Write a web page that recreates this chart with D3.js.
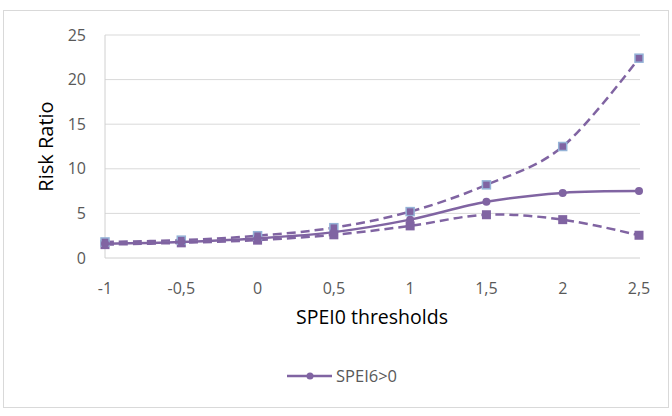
<!DOCTYPE html>
<html>
<head>
<meta charset="utf-8">
<script src="https://cdn.jsdelivr.net/npm/d3@7"></script>
<style>
  body { margin: 0; background: #fff; }
  svg text { font-family: "Open Sans", "Noto Sans", sans-serif; }
</style>
</head>
<body>
<div id="chart"></div>
<script>
// data
const thresholds = ["-1", "-0,5", "0", "0,5", "1", "1,5", "2", "2,5"];
const rrMain = [1.6, 1.8, 2.2, 2.9, 4.3, 6.3, 7.3, 7.5];
const rrUpper = [1.8, 2.0, 2.5, 3.4, 5.2, 8.2, 12.5, 22.4];
const rrLower = [1.5, 1.7, 2.0, 2.6, 3.6, 4.85, 4.3, 2.55];
const yTicks = [0, 5, 10, 15, 20, 25];
const legendLabel = "SPEI6>0";

const W = 672, H = 416;
const purple = "#8064a2";
const svg = d3.select("#chart").append("svg")
    .attr("width", W).attr("height", H);

// chart border
svg.append("rect")
    .attr("x", 3.5).attr("y", 10.5)
    .attr("width", 665).attr("height", 397)
    .attr("fill", "#fff").attr("stroke", "#d9d9d9");

const pLeft = 105, pRight = 639, pTop = 35, pBottom = 258;
const x = d3.scalePoint().domain(thresholds).range([pLeft, pRight]);
const y = d3.scaleLinear().domain([0, 25]).range([pBottom, pTop]);

// gridlines
svg.append("g").selectAll("line")
    .data(yTicks.slice(1))
    .enter().append("line")
    .attr("x1", pLeft).attr("x2", pRight + 1)
    .attr("y1", d => y(d)).attr("y2", d => y(d))
    .attr("stroke", "#d9d9d9").attr("stroke-width", 1);

// axis lines
svg.append("line")
    .attr("x1", pLeft).attr("x2", pRight + 1)
    .attr("y1", pBottom).attr("y2", pBottom)
    .attr("stroke", "#d0d0d0");
svg.append("line")
    .attr("x1", pLeft).attr("x2", pLeft)
    .attr("y1", pTop).attr("y2", pBottom)
    .attr("stroke", "#d0d0d0");

// tick labels
svg.append("g").selectAll("text")
    .data(yTicks)
    .enter().append("text")
    .attr("x", 86).attr("y", d => y(d))
    .attr("dy", "0.35em")
    .attr("text-anchor", "end")
    .attr("font-size", 16)
    .attr("fill", "#595959")
    .text(d => d);

svg.append("g").selectAll("text")
    .data(thresholds)
    .enter().append("text")
    .attr("x", d => x(d)).attr("y", 288)
    .attr("dy", "0.35em")
    .attr("text-anchor", "middle")
    .attr("font-size", 16)
    .attr("fill", "#595959")
    .text(d => d);

// axis titles
svg.append("text")
    .attr("transform", `translate(46,${(pTop + pBottom) / 2}) rotate(-90)`)
    .attr("dy", "0.35em")
    .attr("text-anchor", "middle")
    .attr("font-size", 20)
    .attr("fill", "#000")
    .text("Risk Ratio");

svg.append("text")
    .attr("x", (pLeft + pRight) / 2).attr("y", 317)
    .attr("dy", "0.35em")
    .attr("text-anchor", "middle")
    .attr("font-size", 19.5)
    .attr("fill", "#000")
    .text("SPEI0 thresholds");

const line = d3.line()
    .x((d, i) => x(thresholds[i]))
    .y(d => y(d))
    .curve(d3.curveCardinal.tension(0));

// lower bound
svg.append("path")
    .attr("d", line(rrLower))
    .attr("fill", "none").attr("stroke", purple)
    .attr("stroke-width", 2.5).attr("stroke-dasharray", "9,5");
svg.append("g").selectAll("rect")
    .data(rrLower)
    .enter().append("rect")
    .attr("x", (d, i) => x(thresholds[i]) - 4.5)
    .attr("y", d => y(d) - 4.5)
    .attr("width", 9).attr("height", 9)
    .attr("fill", purple);

// upper bound
svg.append("path")
    .attr("d", line(rrUpper))
    .attr("fill", "none").attr("stroke", purple)
    .attr("stroke-width", 2.5).attr("stroke-dasharray", "9,5");
svg.append("g").selectAll("rect")
    .data(rrUpper)
    .enter().append("rect")
    .attr("x", (d, i) => x(thresholds[i]) - 4)
    .attr("y", d => y(d) - 4)
    .attr("width", 8).attr("height", 8)
    .attr("fill", purple)
    .attr("stroke", "#95b3d7").attr("stroke-width", 1.5);

// main estimate
svg.append("path")
    .attr("d", line(rrMain))
    .attr("fill", "none").attr("stroke", purple)
    .attr("stroke-width", 2.5);
svg.append("g").selectAll("circle")
    .data(rrMain)
    .enter().append("circle")
    .attr("cx", (d, i) => x(thresholds[i]))
    .attr("cy", d => y(d))
    .attr("r", 4)
    .attr("fill", purple);

// legend
const lg = svg.append("g").attr("transform", "translate(287,376)");
lg.append("line")
    .attr("x1", 0).attr("x2", 45)
    .attr("stroke", purple).attr("stroke-width", 2.5);
lg.append("circle").attr("cx", 23).attr("r", 3.5).attr("fill", purple);
lg.append("text")
    .attr("x", 49).attr("dy", "0.35em")
    .attr("font-size", 16.5)
    .attr("fill", "#595959")
    .text(legendLabel);
</script>
</body>
</html>
